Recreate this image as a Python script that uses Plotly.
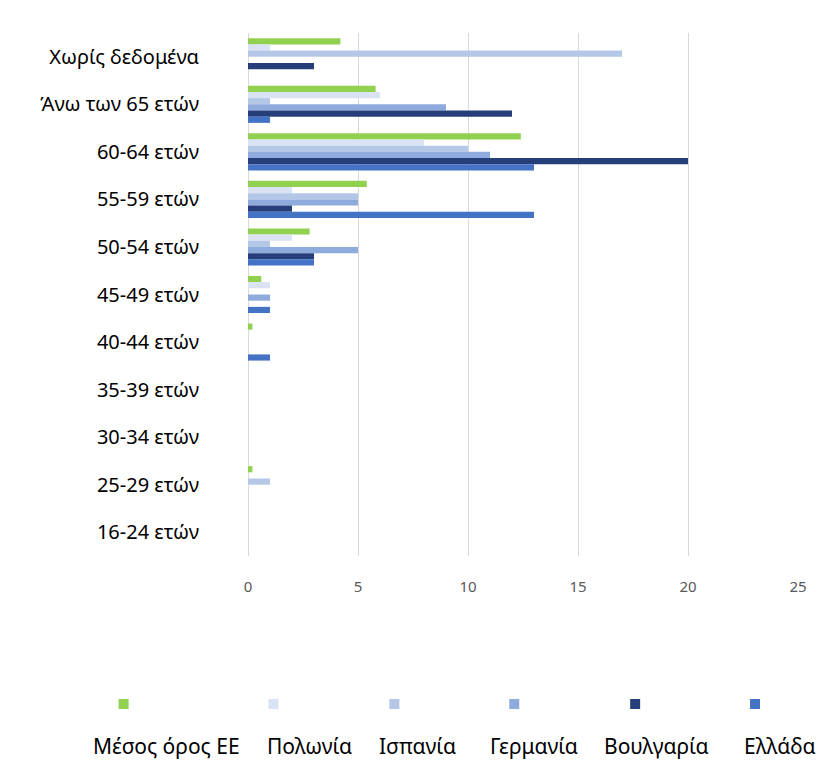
import plotly.graph_objects as go

FONT = "Noto Sans"

age_groups = [
    "Χωρίς δεδομένα", "Άνω των 65 ετών", "60-64 ετών", "55-59 ετών",
    "50-54 ετών", "45-49 ετών", "40-44 ετών", "35-39 ετών",
    "30-34 ετών", "25-29 ετών", "16-24 ετών",
]

countries = ["Μέσος όρος ΕΕ", "Πολωνία", "Ισπανία", "Γερμανία", "Βουλγαρία", "Ελλάδα"]

eu_avg   = [4.2, 5.8, 12.4, 5.4, 2.8, 0.6, 0.2, 0, 0, 0.2, 0]
poland   = [1, 6, 8, 2, 2, 1, 0, 0, 0, 0, 0]
spain    = [17, 1, 10, 5, 1, 0, 0, 0, 0, 1, 0]
germany  = [0, 9, 11, 5, 5, 1, 0, 0, 0, 0, 0]
bulgaria = [3, 12, 20, 2, 3, 0, 0, 0, 0, 0, 0]
greece   = [0, 1, 13, 13, 3, 1, 1, 0, 0, 0, 0]

x_ticks = [0, 5, 10, 15, 20, 25]

colors = ["#92D050", "#DAE3F3", "#B4C7E7", "#8FAADC", "#263F7A", "#4472C4"]
series = [eu_avg, poland, spain, germany, bulgaria, greece]

fig = go.Figure()
for name, vals, col in zip(countries, series, colors):
    fig.add_trace(go.Bar(
        y=age_groups, x=vals, name=name, orientation="h",
        marker=dict(color=col, line=dict(width=0)),
    ))

# the page body has an 8px margin, so window pixels are shifted by OFF
OFF = 8
W, H = 832 - OFF, 763 - OFF
# plot area in window pixels
L, R, T, B = 247.5, 798, 33, 556


def px_x(px):
    return (px - L) / (R - L)


def px_y(py):
    return (B - py) / (B - T)


fig.update_layout(
    width=W, height=H,
    margin=dict(l=L - OFF, r=W + OFF - R, t=T - OFF, b=H + OFF - B, pad=0),
    paper_bgcolor="white", plot_bgcolor="white",
    barmode="group", bargap=0.22, bargroupgap=0,
    showlegend=False,
    font=dict(family=FONT, size=20, color="#000000"),
    xaxis=dict(
        range=[0, 25], tickvals=x_ticks, showgrid=True,
        gridcolor="#D9D9D9", gridwidth=1,
        zeroline=True, zerolinecolor="#D9D9D9", zerolinewidth=1,
        showline=False, ticks="",
        tickfont=dict(family=FONT, size=15, color="#595959"),
        ticklabelstandoff=20,
    ),
    yaxis=dict(
        type="category", autorange="reversed",
        showgrid=False, showline=False, ticks="",
        tickfont=dict(family=FONT, size=20, color="#000000"),
        ticklabelstandoff=48,
    ),
)

# legend drawn as in the source: swatches above, names below
swatch_x = [123, 273, 394, 514, 635, 755]
label_x = [166, 309, 417, 534, 656, 780]
half = 5
for sx, lx, name, col in zip(swatch_x, label_x, countries, colors):
    fig.add_shape(
        type="rect", xref="paper", yref="paper",
        x0=px_x(sx - half), x1=px_x(sx + half),
        y0=px_y(704 + half), y1=px_y(704 - half),
        fillcolor=col, line=dict(width=0),
    )
    fig.add_annotation(
        x=px_x(lx), y=px_y(746), xref="paper", yref="paper",
        text=name, showarrow=False, xanchor="center", yanchor="middle",
        borderpad=0,
        font=dict(family=FONT, size=21, color="#000000"),
    )

fig.write_html("out.html")
